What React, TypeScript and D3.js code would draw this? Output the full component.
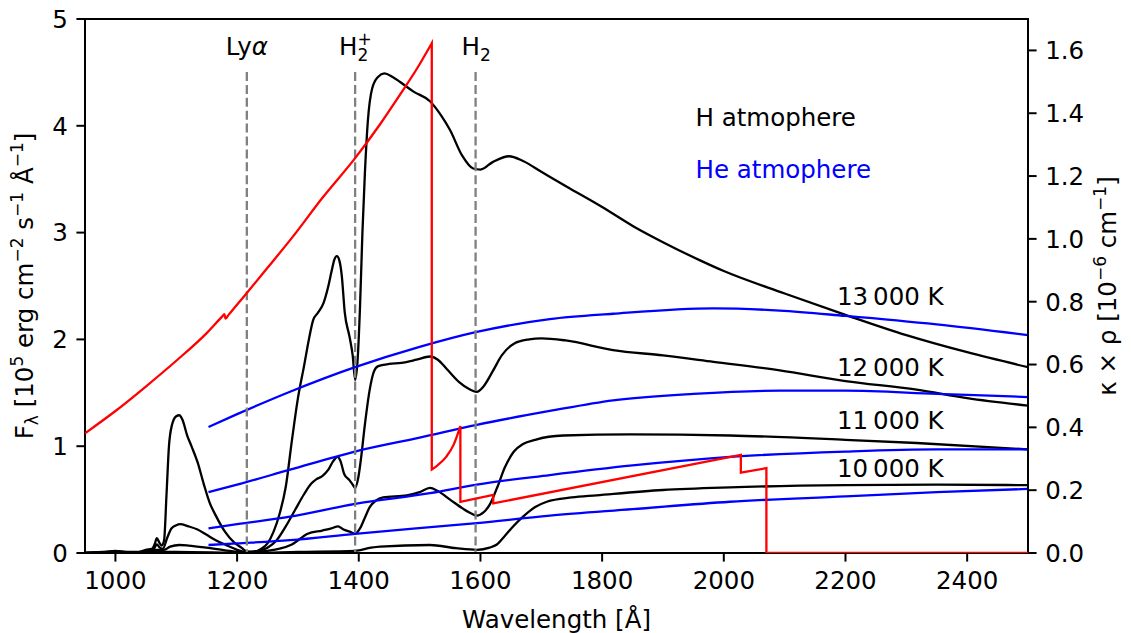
import React from "react";
import * as d3 from "d3";

// H atmosphere spectra, [wavelength Å, F_lambda 1e5]
const H13000 = [[950,0],[980,0.005],[1000,0.02],[1015,0.01],[1035,0.005],[1050,0.03],[1060,0.04],[1065,0.09],[1068,0.14],[1072,0.1],[1076,0.07],[1080,0.12],[1084,0.55],[1088,1.0],[1093,1.2],[1100,1.28],[1105,1.29],[1110,1.25],[1118,1.1],[1125,1.0],[1135,0.85],[1145,0.65],[1155,0.47],[1165,0.35],[1180,0.2],[1195,0.1],[1207,0.05],[1216,0.015],[1225,0.01],[1240,0.04],[1250,0.09],[1260,0.2],[1270,0.37],[1280,0.62],[1290,1.05],[1300,1.45],[1310,1.75],[1318,2.0],[1325,2.18],[1333,2.25],[1342,2.34],[1350,2.5],[1355,2.63],[1360,2.75],[1364,2.78],[1368,2.74],[1372,2.6],[1377,2.25],[1385,2.02],[1390,1.85],[1394,1.62],[1398,1.8],[1402,2.3],[1406,3.0],[1410,3.55],[1415,4.05],[1422,4.35],[1432,4.46],[1442,4.49],[1455,4.46],[1468,4.41],[1490,4.32],[1517,4.23],[1535,4.1],[1550,3.96],[1570,3.72],[1588,3.6],[1600,3.59],[1620,3.66],[1647,3.715],[1670,3.67],[1700,3.57],[1742,3.43],[1800,3.24],[1851,3.06],[1900,2.91],[1961,2.74],[2000,2.64],[2100,2.43],[2200,2.23],[2300,2.04],[2400,1.88],[2500,1.74]];
const H12000 = [[950,0],[1000,0.015],[1030,0.0],[1050,0.02],[1062,0.03],[1068,0.08],[1073,0.05],[1078,0.04],[1085,0.14],[1092,0.23],[1100,0.26],[1106,0.27],[1120,0.25],[1135,0.22],[1150,0.17],[1165,0.12],[1180,0.08],[1200,0.03],[1216,0.01],[1235,0.02],[1250,0.05],[1265,0.12],[1280,0.25],[1295,0.4],[1310,0.55],[1322,0.65],[1330,0.69],[1340,0.72],[1350,0.78],[1358,0.86],[1365,0.9],[1370,0.86],[1376,0.74],[1385,0.68],[1390,0.64],[1394,0.61],[1399,0.7],[1404,0.9],[1410,1.2],[1418,1.53],[1425,1.7],[1432,1.75],[1450,1.77],[1470,1.78],[1495,1.81],[1517,1.84],[1530,1.81],[1545,1.72],[1565,1.6],[1580,1.54],[1594,1.51],[1605,1.56],[1620,1.7],[1635,1.85],[1655,1.96],[1680,2.0],[1700,2.01],[1740,1.99],[1818,1.9],[1900,1.85],[1983,1.79],[2092,1.71],[2200,1.61],[2317,1.53],[2400,1.45],[2500,1.38]];
const H11000 = [[950,0],[1000,0.01],[1050,0.01],[1068,0.03],[1080,0.03],[1090,0.06],[1105,0.075],[1120,0.07],[1150,0.05],[1180,0.025],[1216,0.005],[1250,0.02],[1270,0.04],[1290,0.08],[1316,0.18],[1340,0.21],[1355,0.23],[1366,0.25],[1375,0.22],[1385,0.2],[1394,0.18],[1402,0.23],[1410,0.33],[1418,0.43],[1428,0.49],[1440,0.52],[1479,0.54],[1500,0.57],[1517,0.61],[1530,0.58],[1550,0.5],[1570,0.42],[1585,0.37],[1594,0.35],[1605,0.38],[1615,0.45],[1628,0.62],[1640,0.8],[1655,0.95],[1670,1.02],[1690,1.06],[1736,1.1],[1846,1.11],[2010,1.1],[2200,1.06],[2317,1.03],[2500,0.97]];
const H10000 = [[950,0],[1000,0.005],[1100,0.01],[1216,0.0],[1300,0.01],[1394,0.02],[1420,0.05],[1435,0.06],[1517,0.075],[1560,0.045],[1594,0.03],[1615,0.05],[1627,0.08],[1640,0.16],[1654,0.25],[1670,0.34],[1690,0.43],[1709,0.48],[1750,0.52],[1791,0.54],[1900,0.59],[2010,0.615],[2200,0.635],[2350,0.64],[2500,0.635]];

// He atmosphere spectra
const He13000 = [[1153,1.18],[1200,1.3],[1287,1.51],[1394,1.74],[1500,1.93],[1594,2.07],[1714,2.19],[1818,2.24],[1983,2.29],[2092,2.27],[2200,2.22],[2350,2.14],[2500,2.04]];
const He12000 = [[1153,0.57],[1200,0.64],[1287,0.78],[1394,0.95],[1500,1.08],[1594,1.2],[1714,1.33],[1818,1.43],[1950,1.49],[2092,1.52],[2200,1.52],[2350,1.49],[2500,1.46]];
const He11000 = [[1153,0.23],[1200,0.27],[1287,0.34],[1394,0.46],[1517,0.56],[1594,0.64],[1714,0.73],[1850,0.82],[2010,0.9],[2200,0.95],[2350,0.97],[2500,0.97]];
const He10000 = [[1153,0.075],[1200,0.09],[1287,0.12],[1394,0.18],[1594,0.28],[1714,0.35],[1850,0.41],[2010,0.48],[2200,0.53],[2350,0.57],[2500,0.6]];

// kappa x rho (right axis); repeated wavelengths are the vertical jumps
const kappaRho = [[950,0.381],[1000,0.452],[1050,0.53],[1100,0.612],[1150,0.7],[1176,0.754],[1179,0.76],[1181,0.746],[1186,0.758],[1216,0.828],[1250,0.908],[1292,1.008],[1340,1.13],[1394,1.257],[1435,1.365],[1468,1.46],[1495,1.54],[1520,1.623],[1520,0.266],[1530,0.28],[1544,0.307],[1556,0.345],[1567,0.404],[1567,0.163],[1621,0.185],[1621,0.158],[2028,0.312],[2028,0.256],[2070,0.27],[2070,0],[2500,0]];

const tempLabels = [
  { text: "13\u2009000 K", y: 2.32 },
  { text: "12\u2009000 K", y: 1.66 },
  { text: "11\u2009000 K", y: 1.16 },
  { text: "10\u2009000 K", y: 0.71 },
];
const lineMarks = [1216, 1394, 1592];
const xTicks = [1000, 1200, 1400, 1600, 1800, 2000, 2200, 2400];
const yTicks = [0, 1, 2, 3, 4, 5];
const y2Ticks = [0, 0.2, 0.4, 0.6, 0.8, 1.0, 1.2, 1.4, 1.6];

const W = 1131, H = 633;
const L = 85, R = 1028, T = 19, B = 553;
const FONT = "DejaVu Sans, sans-serif";
const FS = 24.5;
const SUP = 17;

// split a series at repeated x so each piece can be smoothed, jumps stay vertical
function runs(data: number[][]) {
  const out: number[][][] = [[data[0]]];
  for (let i = 1; i < data.length; i++) {
    if (data[i][0] === data[i - 1][0]) out.push([data[i]]);
    else out[out.length - 1].push(data[i]);
  }
  return out;
}

export default function App() {
  const x = d3.scaleLinear().domain([950, 2500]).range([L, R]);
  const y = d3.scaleLinear().domain([0, 5]).range([B, T]);
  const y2 = d3.scaleLinear().domain([0, 1.7]).range([B, T]);
  const smooth = d3.line<number[]>().x(d => x(d[0])).y(d => y(d[1])).curve(d3.curveMonotoneX);
  const smooth2 = d3.line<number[]>().x(d => x(d[0])).y(d => y2(d[1])).curve(d3.curveMonotoneX);
  const redPath = runs(kappaRho)
    .map((r, i) => {
      const s = smooth2(r.length > 1 ? r : [r[0], r[0]]) || "";
      return i === 0 ? s : "L" + s.slice(1);
    })
    .join("");
  const tick = 8.6;

  return (
    <div style={{ position: "absolute", left: 0, top: 0 }}>
      <svg width={W} height={H} style={{ display: "block", background: "#fff" }} fontFamily={FONT}>
        <defs>
          <clipPath id="plot"><rect x={L} y={T} width={R - L} height={B - T} /></clipPath>
        </defs>
        <g clipPath="url(#plot)" fill="none" strokeLinejoin="round">
          {[H13000, H12000, H11000, H10000].map((d, i) => (
            <path key={"h" + i} d={smooth(d) || ""} stroke="#000" strokeWidth={2.3} />
          ))}
          {[He13000, He12000, He11000, He10000].map((d, i) => (
            <path key={"he" + i} d={smooth(d) || ""} stroke="#0000ff" strokeWidth={2.3} />
          ))}
          {lineMarks.map(v => (
            <line key={v} x1={x(v)} x2={x(v)} y1={72} y2={B} stroke="#808080" strokeWidth={2.3} strokeDasharray="9,3.9" />
          ))}
        </g>
        {/* frame */}
        <rect x={L} y={T} width={R - L} height={B - T} fill="none" stroke="#000" strokeWidth={2} />
        <g clipPath="url(#plot)">
          <path d={redPath} fill="none" stroke="#ff0000" strokeWidth={2.3} strokeLinejoin="miter" />
        </g>

        {/* x axis */}
        {xTicks.map(t => (
          <g key={t}>
            <line x1={x(t)} x2={x(t)} y1={B} y2={B + tick} stroke="#000" strokeWidth={2} />
            <text x={x(t)} y={589} fontSize={FS} textAnchor="middle">{t}</text>
          </g>
        ))}
        <text x={(L + R) / 2} y={628} fontSize={FS} textAnchor="middle">Wavelength [Å]</text>

        {/* left axis */}
        {yTicks.map(t => (
          <g key={t}>
            <line x1={L - tick} x2={L} y1={y(t)} y2={y(t)} stroke="#000" strokeWidth={2} />
            <text x={L - 17.2} y={y(t)} dy="0.36em" fontSize={FS} textAnchor="end">{t}</text>
          </g>
        ))}
        <text transform={`translate(33,${(T + B) / 2}) rotate(-90)`} fontSize={FS} textAnchor="middle">
          <tspan>F</tspan><tspan fontSize={SUP} dy={5}>λ</tspan>
          <tspan dy={-5}> [10</tspan><tspan fontSize={SUP} dy={-10}>5</tspan>
          <tspan dy={10}> erg cm</tspan><tspan fontSize={SUP} dy={-10}>−2</tspan>
          <tspan dy={10}> s</tspan><tspan fontSize={SUP} dy={-10}>−1</tspan>
          <tspan dy={10}> Å</tspan><tspan fontSize={SUP} dy={-10}>−1</tspan>
          <tspan dy={10}>]</tspan>
        </text>

        {/* right axis */}
        {y2Ticks.map(t => (
          <g key={t}>
            <line x1={R} x2={R + tick} y1={y2(t)} y2={y2(t)} stroke="#000" strokeWidth={2} />
            <text x={R + 17.2} y={y2(t)} dy="0.36em" fontSize={FS} textAnchor="start">{d3.format(".1f")(t)}</text>
          </g>
        ))}
        <text transform={`translate(1116,${(T + B) / 2}) rotate(-90)`} fontSize={FS} textAnchor="middle">
          <tspan>κ × ρ [10</tspan><tspan fontSize={SUP} dy={-10}>−6</tspan>
          <tspan dy={10}> cm</tspan><tspan fontSize={SUP} dy={-10}>−1</tspan>
          <tspan dy={10}>]</tspan>
        </text>

        {/* line identifications */}
        <text x={x(1216)} y={55} fontSize={FS} textAnchor="middle">Ly<tspan fontStyle="italic">α</tspan></text>
        <text x={x(1394) - 16} y={55} fontSize={FS}>
          H<tspan fontSize={SUP} dy={6}>2</tspan><tspan fontSize={SUP} dx={-11} dy={-16}>+</tspan>
        </text>
        <text x={x(1592) - 14} y={55} fontSize={FS}>
          H<tspan fontSize={SUP} dy={6}>2</tspan>
        </text>

        <text x={695.5} y={126} fontSize={FS} fill="#000">H atmophere</text>
        <text x={695.5} y={178} fontSize={FS} fill="#0000ff">He atmophere</text>

        {tempLabels.map(l => (
          <text key={l.text} x={837} y={y(l.y)} fontSize={FS}>{l.text}</text>
        ))}
      </svg>
    </div>
  );
}
